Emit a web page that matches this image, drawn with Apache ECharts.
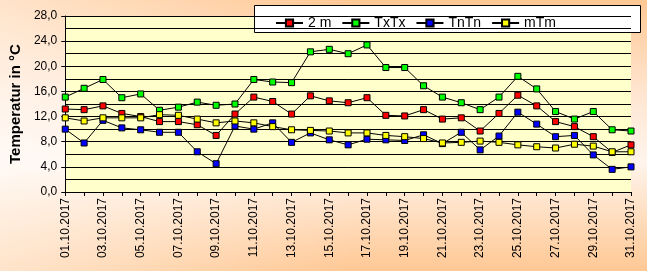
<!DOCTYPE html>
<html>
<head>
<meta charset="utf-8">
<script src="https://cdn.jsdelivr.net/npm/echarts@6/dist/echarts.min.js"></script>
<style>
html,body{margin:0;padding:0;}
#chart{width:647px;height:271px;
background:
 linear-gradient(to right, rgba(255,255,255,0.5) 0%, rgba(255,255,255,0) 55%),
 linear-gradient(to bottom, #FFC894 0%, #FFE6D2 35%, #FFF4EC 60%, #FFD8B4 85%, #FFC894 100%);}
</style>
</head>
<body>
<div id="chart"></div>
<script>
const categories = ["01.10.2017","02.10.2017","03.10.2017","04.10.2017","05.10.2017","06.10.2017","07.10.2017","08.10.2017","09.10.2017","10.10.2017","11.10.2017","12.10.2017","13.10.2017","14.10.2017","15.10.2017","16.10.2017","17.10.2017","18.10.2017","19.10.2017","20.10.2017","21.10.2017","22.10.2017","23.10.2017","24.10.2017","25.10.2017","26.10.2017","27.10.2017","28.10.2017","29.10.2017","30.10.2017","31.10.2017"];
const series2m = [13.2,13.1,13.7,12.5,12.0,11.2,11.2,10.7,9.0,12.4,15.1,14.4,12.4,15.3,14.5,14.2,15.0,12.2,12.1,13.1,11.6,11.8,9.7,12.5,15.4,13.7,11.2,10.4,8.8,6.3,7.5];
const seriesTxTx = [15.1,16.5,17.9,15.0,15.6,13.0,13.5,14.3,13.8,14.0,17.9,17.5,17.4,22.3,22.7,22.0,23.4,19.8,19.8,16.9,15.1,14.2,13.1,15.1,18.4,16.4,12.8,11.6,12.8,9.9,9.7];
const seriesTnTn = [10.0,7.8,11.4,10.2,9.9,9.5,9.5,6.4,4.5,10.5,10.0,11.0,7.9,9.4,8.3,7.5,8.4,8.3,8.2,9.1,7.7,9.5,6.7,8.9,12.7,10.8,8.8,9.0,5.9,3.6,4.0];
const seriesmTm = [11.8,11.3,11.8,11.8,11.8,12.3,12.2,11.6,11.0,11.3,11.0,10.4,9.9,9.8,9.7,9.4,9.4,9.0,8.8,8.5,7.8,7.9,8.1,7.9,7.5,7.2,7.0,7.6,7.3,6.4,6.4];
const seriesNames = ["2 m","TxTx","TnTn","mTm"];
const seriesColors = ["#FF0000","#00FF00","#0000FF","#FFFF00"];
const seriesData = [series2m, seriesTxTx, seriesTnTn, seriesmTm];

const FONT = "'Liberation Sans', Arial, sans-serif";
const chart = echarts.init(document.getElementById('chart'), null, {renderer:'canvas'});
chart.setOption({
  animation:false,
  backgroundColor:'transparent',
  textStyle:{fontFamily:FONT},
  graphic:[{type:'rect', z:0, shape:{x:254.5,y:5.5,width:386,height:27}, style:{fill:'#fff', stroke:'#000', lineWidth:1}}],
  legend:{
    left:270, top:11, z:10,
    itemWidth:27, itemHeight:9, itemGap:10,
    data:seriesNames,
    textStyle:{fontFamily:FONT, fontSize:14, color:'#000', width:48}
  },
  grid:{left:53,right:16,top:16,bottom:79,show:true,backgroundColor:'#FFFFCC',borderWidth:0},
  xAxis:{
    type:'category', data:categories, boundaryGap:false,
    axisLine:{lineStyle:{color:'#000',width:1}},
    axisTick:{show:true, interval:0, length:4, lineStyle:{color:'#000'}},
    axisLabel:{interval:1, rotate:90, margin:6, fontSize:12, fontFamily:FONT, color:'#000'},
    splitLine:{show:false}
  },
  yAxis:{
    type:'value', min:0, max:28, interval:4,
    name:'Temperatur in °C', nameLocation:'middle', nameGap:31,
    nameTextStyle:{fontFamily:FONT, fontSize:15, fontWeight:'bold', color:'#000'},
    axisLine:{show:true, lineStyle:{color:'#000',width:1}},
    axisTick:{show:true, length:4, lineStyle:{color:'#000'}},
    axisLabel:{fontSize:12, fontFamily:FONT, color:'#000', margin:8,
      formatter:function(v){return v.toFixed(1).replace('.',',');}},
    splitLine:{show:true, lineStyle:{color:'#000',width:1}},
    minorTick:{show:false, splitNumber:2},
    minorSplitLine:{show:true, lineStyle:{color:'#000',width:1}}
  },
  series: seriesNames.map(function(n,i){return {
    name:n, type:'line', data:seriesData[i],
    symbol:'rect', symbolSize:6, showSymbol:true,
    lineStyle:{color:'#000', width:1},
    itemStyle:{color:seriesColors[i], borderColor:'#000', borderWidth:1},
    emphasis:{disabled:true}
  };})
});
</script>
</body>
</html>
